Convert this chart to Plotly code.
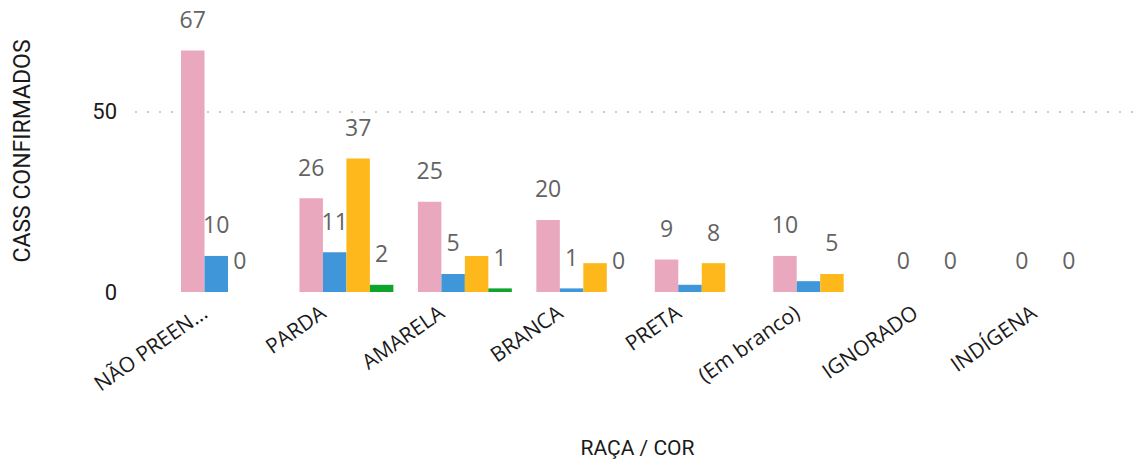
import plotly.graph_objects as go

categories = ["NÃO PREEN...", "PARDA", "AMARELA", "BRANCA", "PRETA", "(Em branco)", "IGNORADO", "INDÍGENA"]
series_names = ["Série 1", "Série 2", "Série 3", "Série 4"]
s1 = [67, 26, 25, 20, 9, 10, 0, 0]
s2 = [10, 11, 5, 1, 2, 3, None, None]
s3 = [0, 37, 10, 8, 8, 5, 0, 0]
s4 = [None, 2, 1, 0, None, None, None, None]
# labels that are displayed in the original (some are hidden by overlap)
show1 = [True, True, True, True, True, True, True, True]
show2 = [True, True, True, True, False, False, False, False]
show3 = [True, True, False, False, True, True, True, True]
show4 = [False, True, True, True, False, False, False, False]
colors = ["#E9A8BE", "#3F96D8", "#FEB81B", "#0FA42B"]

label_font = "Open Sans, Noto Sans, sans-serif"
axis_font = "Roboto, Noto Sans, sans-serif"

fig = go.Figure()
for name, vals, show, col in zip(series_names, [s1, s2, s3, s4], [show1, show2, show3, show4], colors):
    texts = [
        (f"<span style='font-size:23px'>{v}</span><br> " if (v is not None and sh) else "")
        for v, sh in zip(vals, show)
    ]
    fig.add_trace(go.Bar(
        x=categories, y=vals, name=name, marker=dict(color=col, line=dict(width=0)),
        text=texts, textposition="outside", cliponaxis=False, constraintext="none",
        textfont=dict(family=label_font, size=12, color="#636363"),
        hoverinfo="skip",
    ))

# the page body has an 8px default margin, so the figure is 16px smaller
fig.update_layout(
    width=1134, height=452,
    margin=dict(l=127, r=2, t=2, b=168),
    barmode="group", bargap=0.207, bargroupgap=0,
    plot_bgcolor="white", paper_bgcolor="white",
    showlegend=False,
)
fig.update_xaxes(
    range=[-0.785, 7.70], tickangle=-35,
    tickfont=dict(family=label_font, size=21, color="#1a1a1a"),
    ticklabelshift=-25, ticklabelstandoff=4,
    showgrid=False, zeroline=False, showline=False,
    title=dict(text="RAÇA / COR", font=dict(family=axis_font, size=21, color="#1a1a1a"), standoff=45),
)
fig.update_yaxes(
    range=[0, 78.2], tickvals=[0, 50], ticktext=["0", "50"],
    tickfont=dict(family=axis_font, size=22, color="#1a1a1a"),
    ticklabelstandoff=17,
    showgrid=True, gridcolor="#CCCCCC", gridwidth=2, griddash="2px,10px",
    zeroline=False, showline=False,
    title=dict(text="CASS CONFIRMADOS", font=dict(family=axis_font, size=23, color="#1a1a1a"), standoff=55),
)

fig.write_html("out.html")
